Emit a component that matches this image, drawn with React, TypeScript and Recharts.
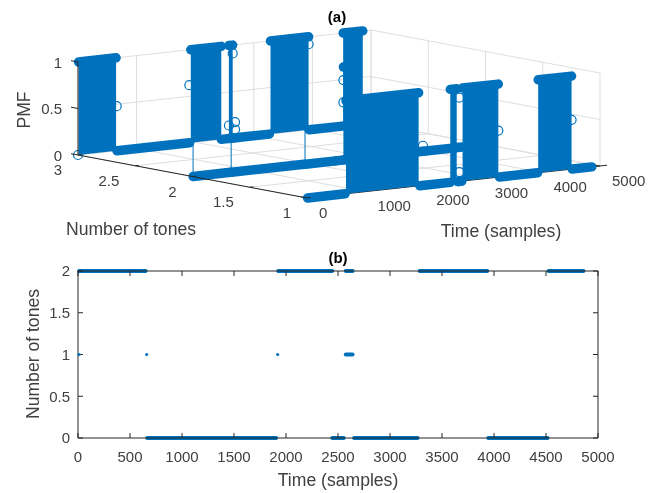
import { Area, ComposedChart, Line, Scatter, XAxis, YAxis } from "recharts";

const BLUE = "#0072BD";
const DARK = "#262626";
const GREY = "#404040";
const GRID = "#DEDEDE";
const FONT = "'Liberation Sans', Arial, sans-serif";

// sample ranges per detected number of tones
const twoTones = [[10, 650], [1925, 2445], [2575, 2640], [3285, 3935], [4525, 4860]];
const oneTone = [[2575, 2640]];
const zeroTones = [[665, 1905], [2445, 2555], [2655, 3265], [3945, 4515]];
const oneToneDots = [10, 660, 1920];

// panel (a): PMF values away from 0 and 1 [time, tones axis, pmf]
const pmfCircles = [
  [0, 3, 0], [660, 3, 0.48], [1900, 3, 0.62], [2640, 3, 0.91], [2575, 3, 0.14], [2680, 3, 0.17], [2680, 3, 0.09],
  [3935, 3, 0.92], [2575, 2, 0.86], [2575, 2, 0.62], [3933, 2, 0.06], [3265, 1, 0.5], [4515, 1, 0.53], [2600, 1, 0.9], [2600, 1, 0.1],
];

const timeTicks3d = [0, 1000, 2000, 3000, 4000, 5000];
const toneTicks3d = [1, 1.5, 2, 2.5, 3];
const pmfTicks = [0, 0.5, 1];
const timeTicks = [0, 500, 1000, 1500, 2000, 2500, 3000, 3500, 4000, 4500, 5000];
const toneTicks = [0, 0.5, 1, 1.5, 2];

// view of the 3-D box: screen position of t=0,n=3,p=0 and the three edge vectors
function project(t: number, n: number, p: number) {
  return {
    x: 78 + (293 * t) / 5000 + (229 * (3 - n)) / 2,
    y: 155 - (32 * t) / 5000 + (43 * (3 - n)) / 2 - 93 * p,
  };
}

type Pt = { x: number; y: number };

const seg = (key: string, a: Pt, b: Pt, color: string, width = 1) => (
  <Line key={key} data={[a, b]} dataKey="y" stroke={color} strokeWidth={width} dot={false} isAnimationActive={false} />
);

const gridLines = [
  ...timeTicks3d.flatMap((t) => [
    seg(`f${t}`, project(t, 1, 0), project(t, 3, 0), GRID),
    seg(`w${t}`, project(t, 3, 0), project(t, 3, 1), GRID),
  ]),
  ...toneTicks3d.flatMap((n) => [
    seg(`g${n}`, project(0, n, 0), project(5000, n, 0), GRID),
    seg(`s${n}`, project(5000, n, 0), project(5000, n, 1), GRID),
  ]),
  ...pmfTicks.flatMap((p) => [
    seg(`h${p}`, project(0, 3, p), project(5000, 3, p), GRID),
    seg(`k${p}`, project(5000, 3, p), project(5000, 1, p), GRID),
  ]),
];

function wall(key: string, [t0, t1]: number[], n: number) {
  const mk = (t: number) => ({ x: project(t, n, 0).x, range: [project(t, n, 1).y, project(t, n, 0).y] });
  return <Area key={key} data={[mk(t0), mk(t1)]} dataKey="range" type="linear" stroke="none" fill={BLUE} fillOpacity={1} dot={false} isAnimationActive={false} />;
}

function thick(key: string, [t0, t1]: number[], n: number, p: number) {
  return (
    <Line key={key} data={[project(t0, n, p), project(t1, n, p)]} dataKey="y" stroke={BLUE} strokeWidth={9.5} strokeLinecap="round" dot={false} isAnimationActive={false} />
  );
}

const rows = [
  { n: 3, on: twoTones, off: [...zeroTones, ...oneTone] },
  { n: 2, on: oneTone, off: [...twoTones, ...zeroTones] },
  { n: 1, on: zeroTones, off: [...twoTones, ...oneTone] },
];

const Hollow = (p: any) => <circle cx={p.cx} cy={p.cy} r={4.5} fill="none" stroke={BLUE} strokeWidth={1.2} />;

const tickText = (anchor: string, dx: number, dy: number, mark = false) => (p: any) => (
  <g>
    {mark && <line x1={p.cx - 7} y1={p.cy - 1.3} x2={p.cx} y2={p.cy} stroke={DARK} strokeWidth={1} />}
    <text x={p.cx + dx} y={p.cy + dy} textAnchor={anchor} dominantBaseline="central" fontSize={15} fontFamily={FONT} fill={GREY}>
      {p.payload.label}
    </text>
  </g>
);

function Layer({ children }: { children: any }) {
  return (
    <div style={{ position: "absolute", left: 0, top: 0 }}>
      <ComposedChart width={662} height={250} margin={{ top: 0, right: 0, bottom: 0, left: 0 }}>
        <XAxis dataKey="x" type="number" domain={[0, 662]} hide />
        <YAxis dataKey="y" type="number" domain={[0, 250]} reversed hide width={0} />
        {children}
      </ComposedChart>
    </div>
  );
}

function Caption({ x, y, size = 17.6, bold, rotate, children }: any) {
  return (
    <div
      style={{
        position: "absolute",
        left: x,
        top: y,
        transform: `translate(-50%, -50%)${rotate ? " rotate(-90deg)" : ""}`,
        fontFamily: FONT,
        fontSize: size,
        fontWeight: bold ? 700 : 400,
        color: bold ? "#000" : GREY,
        whiteSpace: "nowrap",
      }}
    >
      {children}
    </div>
  );
}

// inward ticks on the top and right edges of panel (b), no labels there
const topMark = (p: any) => <line x1={p.x} y1={p.y} x2={p.x} y2={p.y + 5} stroke={DARK} />;
const rightMark = (p: any) => <line x1={p.x} y1={p.y} x2={p.x - 5} y2={p.y} stroke={DARK} />;

export default function App() {
  return (
    <div style={{ position: "absolute", left: 0, top: 0, width: 662, height: 493, background: "#fff", overflow: "hidden", filter: "blur(0.35px)" }}>
      {/* (a) grid and far axis sit behind the stems */}
      <Layer>
        {gridLines}
        {seg("axT", project(0, 1, 0), project(5120, 1, 0), DARK)}
        {timeTicks3d.map((t) => seg(`tt${t}`, project(t, 1, 0), project(t, 1.05, 0), DARK))}
      </Layer>

      <Layer>
        {rows.flatMap((r) => [
          ...r.on.map((range, i) => wall(`wall${r.n}${i}`, range, r.n)),
          ...r.on.map((range, i) => thick(`top${r.n}${i}`, range, r.n, 1)),
          ...r.off.map((range, i) => thick(`flo${r.n}${i}`, range, r.n, 0)),
        ])}
        {oneToneDots.map((t) => seg(`stem${t}`, project(t, 2, 0), project(t, 2, 1), BLUE))}
      </Layer>

      <Layer>
        <Scatter data={pmfCircles.map(([t, n, p]) => project(t, n, p))} shape={Hollow} isAnimationActive={false} />
      </Layer>

      <Layer>
        {seg("axZ", project(0, 3, 0), project(0, 3, 1), DARK)}
        {seg("axN", project(0, 3, 0), project(0, 1, 0), DARK)}
        {toneTicks3d.map((n) => seg(`nt${n}`, project(0, n, 0), project(60, n, 0), DARK))}
      </Layer>

      <Layer>
        <Scatter data={pmfTicks.map((p) => ({ ...project(0, 3, p), label: String(p) }))} shape={tickText("end", -16, 0, true)} isAnimationActive={false} />
        <Scatter data={toneTicks3d.map((n) => ({ ...project(0, n, 0), label: String(n) }))} shape={tickText("end", -16, 14.5)} isAnimationActive={false} />
        <Scatter data={timeTicks3d.map((t) => ({ ...project(t, 1, 0), label: String(t) }))} shape={tickText("start", 12, 14)} isAnimationActive={false} />
      </Layer>

      <Caption x={337} y={16} size={15} bold>(a)</Caption>
      <Caption x={24} y={110} rotate>PMF</Caption>
      <Caption x={131} y={229}>Number of tones</Caption>
      <Caption x={501} y={231}>Time (samples)</Caption>

      {/* (b) */}
      <div style={{ position: "absolute", left: 0, top: 260 }}>
        <ComposedChart width={662} height={233} margin={{ top: 10, right: 63, bottom: 25, left: 28 }}>
          <XAxis
            dataKey="t"
            type="number"
            domain={[0, 5000]}
            ticks={timeTicks}
            interval={0}
            height={30}
            tickSize={-5}
            tickMargin={18}
            stroke={DARK}
            tick={{ fill: GREY, fontSize: 15, fontFamily: FONT }}
          />
          <XAxis xAxisId="top" dataKey="t" orientation="top" type="number" domain={[0, 5000]} ticks={timeTicks} interval={0} height={1} tickSize={0} tickMargin={0} tickLine={false} stroke={DARK} tick={topMark} />
          <YAxis
            type="number"
            domain={[0, 2]}
            ticks={toneTicks}
            interval={0}
            width={50}
            tickSize={-5}
            tickMargin={13}
            stroke={DARK}
            tick={{ fill: GREY, fontSize: 15, fontFamily: FONT }}
          />
          <YAxis yAxisId="right" orientation="right" type="number" domain={[0, 2]} ticks={toneTicks} interval={0} width={1} tickSize={0} tickMargin={0} tickLine={false} stroke={DARK} tick={rightMark} />
          {/* keeps the top and right axes bound to a series */}
          <Line xAxisId="top" yAxisId="right" data={[{ t: 0, v: 0 }, { t: 5000, v: 2 }]} dataKey="v" stroke="none" dot={false} isAnimationActive={false} />
          {[
            { v: 2, ranges: twoTones },
            { v: 1, ranges: oneTone },
            { v: 0, ranges: zeroTones },
          ].flatMap((s) =>
            s.ranges.map(([a, b]) => (
              <Line key={`${s.v}-${a}`} data={[{ t: a, v: s.v }, { t: b, v: s.v }]} dataKey="v" stroke={BLUE} strokeWidth={4} strokeLinecap="round" dot={false} isAnimationActive={false} />
            )),
          )}
          <Scatter data={oneToneDots.map((t) => ({ t, v: 1 }))} dataKey="v" fill={BLUE} shape={(p: any) => <circle cx={p.cx} cy={p.cy} r={1.6} fill={BLUE} />} isAnimationActive={false} />
        </ComposedChart>
      </div>

      <Caption x={338} y={257} size={15} bold>(b)</Caption>
      <Caption x={33} y={354} rotate>Number of tones</Caption>
      <Caption x={338} y={480}>Time (samples)</Caption>
    </div>
  );
}
